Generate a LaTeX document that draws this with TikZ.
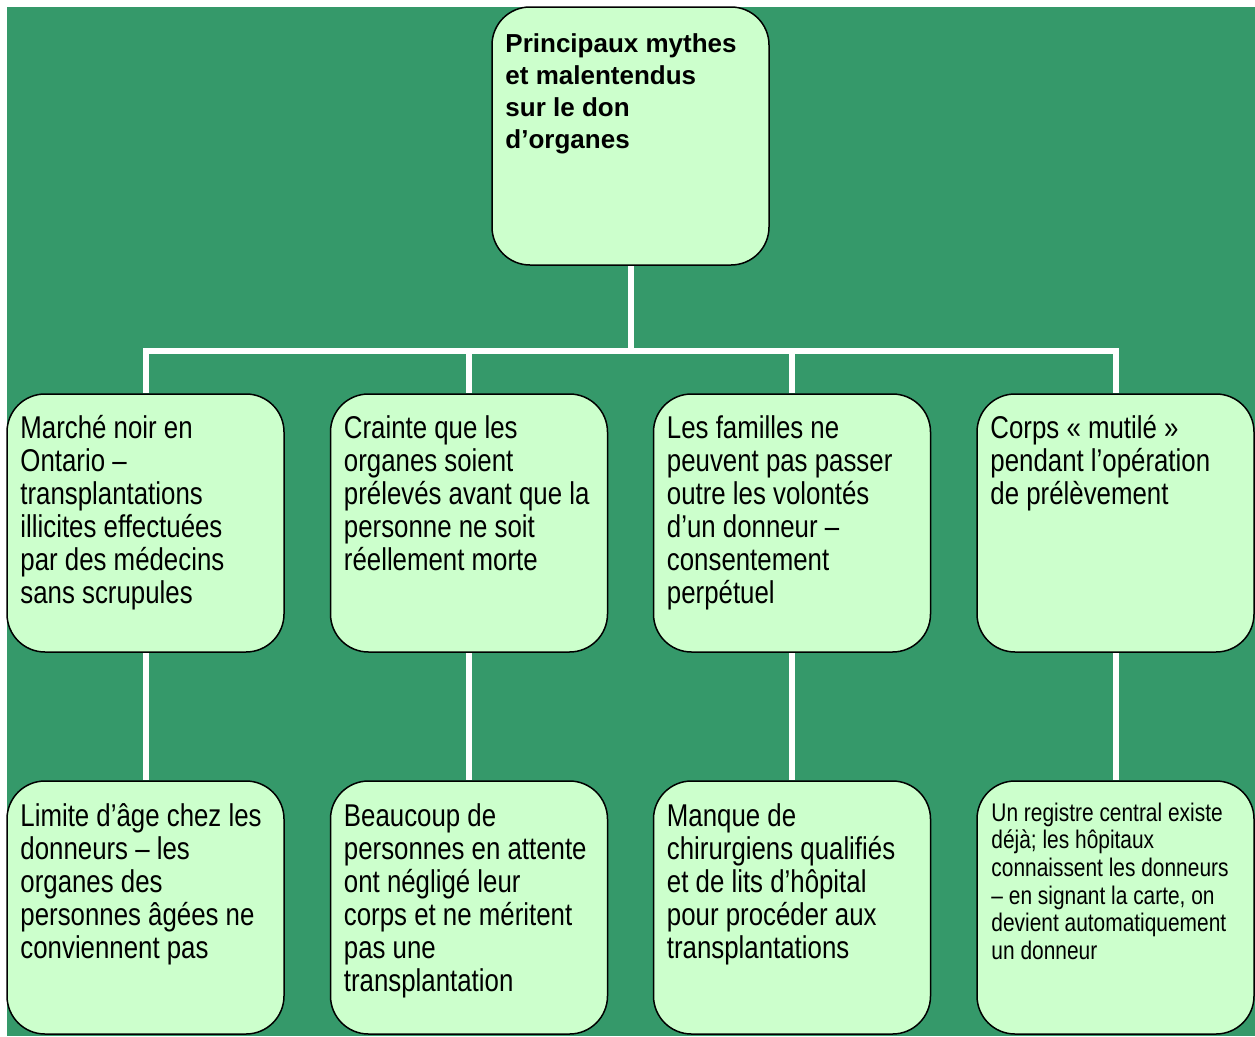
\documentclass[tikz,border=0pt]{standalone}
\usepackage{fontspec}
\usetikzlibrary{backgrounds}
\setmainfont{Liberation Sans}
\newfontfamily\narrowf[FakeStretch=0.82]{Liberation Sans}
\definecolor{bggreen}{RGB}{53,153,106}
\definecolor{boxgreen}{RGB}{204,255,204}
\tikzset{
  box/.style={draw=black, line width=1.5pt, fill=boxgreen, rounded corners=38pt, inner sep=0pt, minimum width=277pt},
  midbox/.style={box, minimum height=258pt},
  lowbox/.style={box, minimum height=253pt},
  conn/.style={draw=white, line width=6pt, line join=miter},
  bigtxt/.style={anchor=base west, inner sep=0pt, font=\narrowf\fontsize{31.5}{33}\selectfont},
  smalltxt/.style={anchor=base west, inner sep=0pt, font=\narrowf\fontsize{25.5}{27.6}\selectfont},
  toptxt/.style={anchor=base west, inner sep=0pt, font=\bfseries\fontsize{26}{32}\selectfont}
}
\newcommand{\boxtext}[1]{\parbox[t]{265pt}{\raggedright #1}}
\begin{document}
\begin{tikzpicture}[x=1pt,y=-1pt]
\useasboundingbox (0,0) rectangle (1255,1036);

% boxes
\node[box, minimum height=258pt] (top) at (630.5,136) {};
\node[midbox] (m1) at (145.5,523) {};
\node[midbox] (m2) at (469,523) {};
\node[midbox] (m3) at (792,523) {};
\node[midbox] (m4) at (1115.5,523) {};
\node[lowbox] (l1) at (145.5,907.5) {};
\node[lowbox] (l2) at (469,907.5) {};
\node[lowbox] (l3) at (792,907.5) {};
\node[lowbox] (l4) at (1115.5,907.5) {};

% background and connectors behind the boxes
\coordinate (hub) at (630.5,351);
\begin{scope}[on background layer]
\fill[bggreen] (7,7) rectangle (1255,1036);
\draw[conn] (top.south) -- (hub);
\draw[conn] (m1.north) |- (hub) -| (m4.north);
\draw[conn] (m2.north) -- (m2.north |- hub);
\draw[conn] (m3.north) -- (m3.north |- hub);
\draw[conn] (m1.south) -- (l1.north);
\draw[conn] (m2.south) -- (l2.north);
\draw[conn] (m3.south) -- (l3.north);
\draw[conn] (m4.south) -- (l4.north);
\end{scope}

% texts
\node[toptxt] (ttop) at ([xshift=14pt,yshift=-46pt]top.north west)
  {\boxtext{Principaux mythes\\et malentendus\\sur le don\\d’organes}};
\node[bigtxt] (tm1) at ([xshift=14pt,yshift=-45pt]m1.north west)
  {\boxtext{Marché noir en\\Ontario –\\transplantations\\illicites effectuées\\par des médecins\\sans scrupules}};
\node[bigtxt] (tm2) at ([xshift=14pt,yshift=-45pt]m2.north west)
  {\boxtext{Crainte que les\\organes soient\\prélevés avant que la\\personne ne soit\\réellement morte}};
\node[bigtxt] (tm3) at ([xshift=14pt,yshift=-45pt]m3.north west)
  {\boxtext{Les familles ne\\peuvent pas passer\\outre les volontés\\d’un donneur –\\consentement\\perpétuel}};
\node[bigtxt] (tm4) at ([xshift=14pt,yshift=-45pt]m4.north west)
  {\boxtext{Corps « mutilé »\\pendant l’opération\\de prélèvement}};
\node[bigtxt] (tl1) at ([xshift=14pt,yshift=-46pt]l1.north west)
  {\boxtext{Limite d’âge chez les\\donneurs – les\\organes des\\personnes âgées ne\\conviennent pas}};
\node[bigtxt] (tl2) at ([xshift=14pt,yshift=-46pt]l2.north west)
  {\boxtext{Beaucoup de\\personnes en attente\\ont négligé leur\\corps et ne méritent\\pas une\\transplantation}};
\node[bigtxt] (tl3) at ([xshift=14pt,yshift=-46pt]l3.north west)
  {\boxtext{Manque de\\chirurgiens qualifiés\\et de lits d’hôpital\\pour procéder aux\\transplantations}};
\node[smalltxt] (tl4) at ([xshift=15pt,yshift=-41pt]l4.north west)
  {\boxtext{Un registre central existe\\déjà; les hôpitaux\\connaissent les donneurs\\– en signant la carte, on\\devient automatiquement\\un donneur}};
\end{tikzpicture}
\end{document}
